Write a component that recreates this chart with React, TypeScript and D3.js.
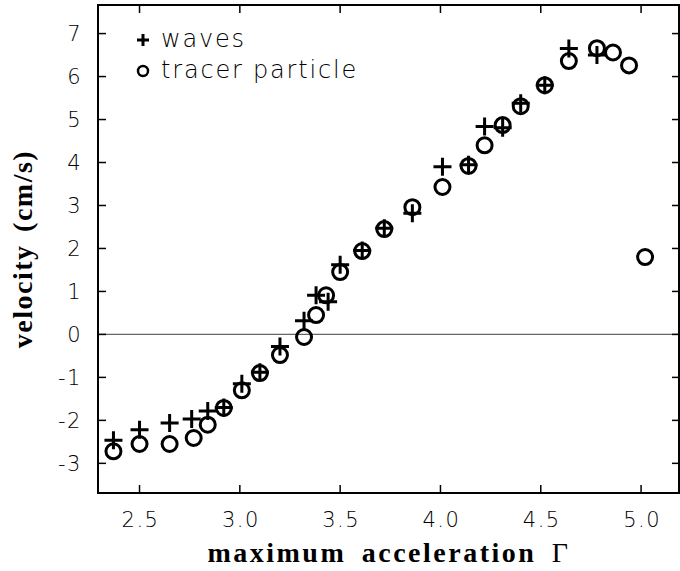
import * as d3 from "d3";

const W = 680;
const H = 571;

// waves (plus markers): maximum acceleration, velocity
const wavesX = [2.37, 2.5, 2.65, 2.76, 2.84, 2.92, 3.01, 3.1, 3.2, 3.32, 3.38, 3.44, 3.5, 3.61, 3.72, 3.86, 4.01, 4.14, 4.22, 4.31, 4.4, 4.52, 4.64, 4.78];
const wavesY = [-2.46, -2.22, -2.06, -1.97, -1.78, -1.7, -1.15, -0.88, -0.28, 0.32, 0.91, 0.76, 1.62, 1.95, 2.47, 2.82, 3.9, 3.95, 4.84, 4.81, 5.38, 5.8, 6.65, 6.5];

// tracer particle (circle markers)
const tracerX = [2.37, 2.5, 2.65, 2.77, 2.84, 2.92, 3.01, 3.1, 3.2, 3.32, 3.38, 3.43, 3.5, 3.61, 3.72, 3.86, 4.01, 4.14, 4.22, 4.31, 4.4, 4.52, 4.64, 4.78, 4.86, 4.94, 5.02];
const tracerY = [-2.72, -2.55, -2.55, -2.41, -2.1, -1.71, -1.3, -0.9, -0.48, -0.06, 0.45, 0.91, 1.45, 1.94, 2.45, 2.96, 3.43, 3.92, 4.4, 4.87, 5.31, 5.8, 6.36, 6.66, 6.56, 6.26, 1.8];

const xTicks = [2.5, 3.0, 3.5, 4.0, 4.5, 5.0];
const yTicks = [-3, -2, -1, 0, 1, 2, 3, 4, 5, 6, 7];

const left = 98, right = 679, top = 5, bottom = 493;

export default function App() {
  const x = d3.scaleLinear().domain([2.293, 5.189]).range([left, right]);
  const y = d3.scaleLinear().domain([-3.69, 7.665]).range([bottom, top]);

  const tickFont = "'DejaVu Sans', sans-serif";
  const titleFont = "'Liberation Serif', 'DejaVu Serif', serif";
  const plusArm = 9;
  const plusPath = (cx: number, cy: number) =>
    `M${cx - plusArm},${cy}H${cx + plusArm}M${cx},${cy - plusArm}V${cy + plusArm}`;

  return (
    <svg width={W} height={H} style={{ position: "absolute", left: 0, top: 0, background: "#fff" }}>
      {/* zero line */}
      <line x1={left} x2={right} y1={y(0)} y2={y(0)} stroke="#666" strokeWidth={1.2} />

      {/* ticks */}
      <g stroke="#000" strokeWidth={1.5}>
        {xTicks.map((t) => (
          <g key={"xt" + t}>
            <line x1={x(t)} x2={x(t)} y1={bottom} y2={bottom - 8} />
            <line x1={x(t)} x2={x(t)} y1={top} y2={top + 8} />
          </g>
        ))}
        {yTicks.map((t) => (
          <g key={"yt" + t}>
            <line x1={left} x2={left + 8} y1={y(t)} y2={y(t)} />
            <line x1={right} x2={right - 7} y1={y(t)} y2={y(t)} />
          </g>
        ))}
      </g>

      {/* frame */}
      <rect x={left} y={top} width={right - left} height={bottom - top} fill="none" stroke="#000" strokeWidth={2} />

      {/* tick labels */}
      <g fontFamily={tickFont} fontWeight={200} fontSize={21} letterSpacing={1.5} fill="#000">
        {xTicks.map((t) => (
          <text key={"xl" + t} x={x(t) + 1} y={527} textAnchor="middle">{d3.format(".1f")(t)}</text>
        ))}
        {yTicks.map((t) => (
          <text key={"yl" + t} x={82} y={y(t) + 7.5} textAnchor="end">{t < 0 ? "-" + Math.abs(t) : String(t)}</text>
        ))}
      </g>

      {/* data: tracer particle */}
      <g fill="none" stroke="#000" strokeWidth={3}>
        {tracerX.map((v, i) => (
          <circle key={"c" + i} cx={x(v)} cy={y(tracerY[i])} r={7.5} />
        ))}
      </g>
      {/* data: waves */}
      <g fill="none" stroke="#000" strokeWidth={3}>
        {wavesX.map((v, i) => (
          <path key={"p" + i} d={plusPath(x(v), y(wavesY[i]))} />
        ))}
      </g>

      {/* legend */}
      <path d={`M137,40H149M143,34V46`} stroke="#000" strokeWidth={3} fill="none" />
      <circle cx={143} cy={71} r={5} fill="none" stroke="#000" strokeWidth={2.5} />
      <g fontFamily={tickFont} fontWeight={200} fontSize={24} letterSpacing={1.8} fill="#000">
        <text x={161} y={47}>waves</text>
        <text x={161} y={78}>tracer particle</text>
      </g>

      {/* axis titles */}
      <text x={389} y={562} textAnchor="middle" fontFamily={titleFont} fontWeight="bold" fontSize={28} letterSpacing={2.5} wordSpacing={6}>
        maximum acceleration <tspan fontWeight="normal">Γ</tspan>
      </text>
      <text transform={`translate(32,${(top + bottom) / 2}) rotate(-90)`} textAnchor="middle" fontFamily={titleFont} fontWeight="bold" fontSize={28} letterSpacing={1.5} wordSpacing={4}>
        velocity (cm/s)
      </text>
    </svg>
  );
}
